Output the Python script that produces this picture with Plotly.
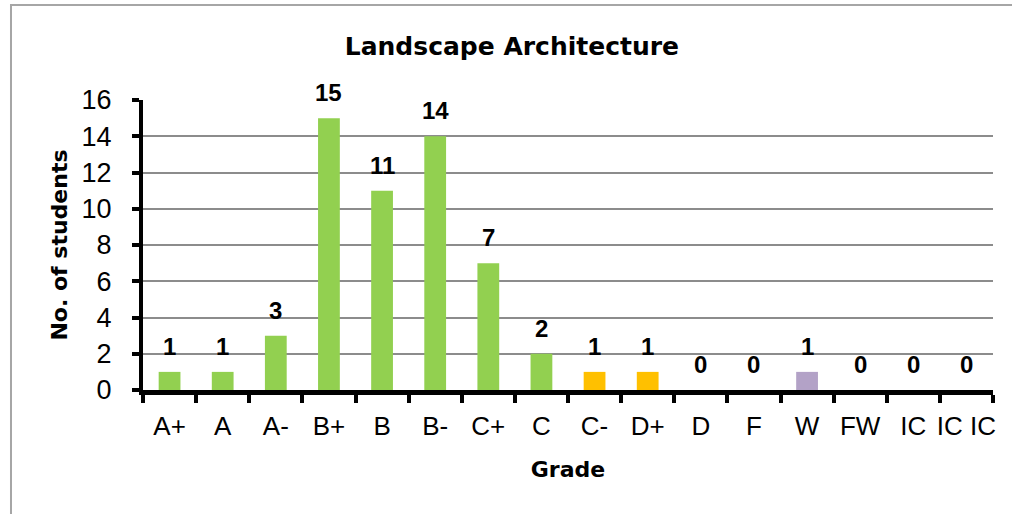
import plotly.graph_objects as go

grades = ["A+", "A", "A-", "B+", "B", "B-", "C+", "C", "C-", "D+", "D", "F", "W", "FW", "IC", "IC IC"]
counts = [1, 1, 3, 15, 11, 14, 7, 2, 1, 1, 0, 0, 1, 0, 0, 0]
bar_colors = ["#92D050"] * 8 + ["#FFC000", "#FFC000", "#FFC000", "#FFC000", "#B3A2C7", "#B3A2C7", "#B3A2C7", "#B3A2C7"]
y_ticks = [0, 2, 4, 6, 8, 10, 12, 14, 16]

fig = go.Figure()
fig.add_trace(go.Bar(x=grades, y=counts, marker=dict(color=bar_colors, line=dict(width=0)),
                     width=0.41, showlegend=False, hoverinfo="x+y"))

for g, c in zip(grades, counts):
    fig.add_annotation(x=g, y=c, text="<b>" + str(c) + "</b>", showarrow=False, yanchor="bottom", yshift=10,
                       font=dict(family="Liberation Sans, Arial", size=24, color="black"),
                       xref="x", yref="y")

# chart border (left and top visible)
fig.add_shape(type="rect", xref="paper", yref="paper", x0=-0.1553, y0=-0.6, x1=1.2, y1=1.3276,
              line=dict(color="#A6A6A6", width=2), fillcolor="rgba(0,0,0,0)", layer="below")

fig.update_layout(
    width=1012, height=514,
    margin=dict(l=143, r=19, t=100, b=124),
    paper_bgcolor="white", plot_bgcolor="white",
    title=dict(text="<b>Landscape Architecture</b>", x=0.434, xref="paper", xanchor="center",
               y=0.91, yref="container", yanchor="middle",
               font=dict(family="DejaVu Sans", size=25, color="black")),
    bargap=0.59,
)
fig.update_yaxes(range=[0, 16], tickvals=y_ticks, ticks="outside", ticklen=7, tickwidth=4, tickcolor="black",
                 showline=True, linewidth=4, linecolor="black", showgrid=True, gridcolor="#8C8C8C", gridwidth=1.5,
                 tickfont=dict(family="Liberation Sans, Arial", size=27, color="black"), ticklabelstandoff=15,
                 title=dict(text="<b>No. of students</b>", standoff=9,
                            font=dict(family="DejaVu Sans", size=22, color="black")),
                 zeroline=False, automargin=False)
fig.update_xaxes(type="category", tickangle=0, ticks="outside", tickson="boundaries", ticklen=8, tickwidth=4,
                 tickcolor="black", showline=True, linewidth=5, linecolor="black", showgrid=False,
                 tickfont=dict(family="Liberation Sans, Arial", size=26, color="black"), ticklabelstandoff=9,
                 title=dict(text="<b>Grade</b>", standoff=23,
                            font=dict(family="DejaVu Sans", size=22, color="black")),
                 automargin=False)

fig.write_html("out.html", config={"displayModeBar": False},
               post_script="document.body.style.margin='0';document.body.style.overflow='hidden';")
